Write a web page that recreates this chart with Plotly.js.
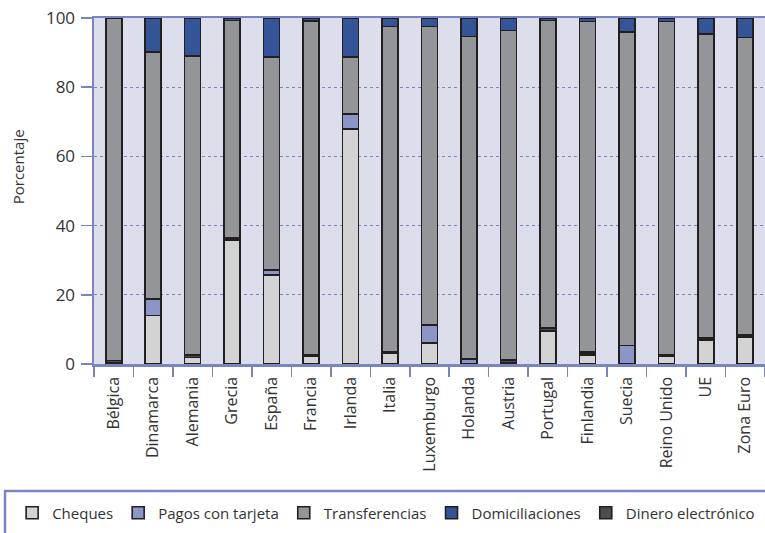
<!DOCTYPE html>
<html><head><meta charset="utf-8">
<script src="https://cdn.plot.ly/plotly-3.0.1.min.js"></script>
<style>html,body{margin:0;padding:0;background:#fff;}#chart{width:765px;height:533px;}</style>
</head><body><div id="chart"></div>
<script>
var categories = ["Bélgica","Dinamarca","Alemania","Grecia","España","Francia","Irlanda","Italia","Luxemburgo","Holanda","Austria","Portugal","Finlandia","Suecia","Reino Unido","UE","Zona Euro"];
var cheques        = [0.3, 14.0, 1.9, 35.8, 25.8, 2.3, 68.0, 3.2, 6.0, 0.0, 0.3, 9.5, 2.6, 0.0, 2.3, 6.8, 7.7];
var pagosTarjeta   = [0.0, 4.8, 0.0, 0.0, 1.4, 0.0, 4.3, 0.0, 5.2, 1.5, 0.0, 0.0, 0.4, 5.3, 0.0, 0.4, 0.4];
var dineroElectr   = [0.7, 0.0, 0.7, 0.7, 0.0, 0.5, 0.0, 0.4, 0.0, 0.0, 0.8, 0.9, 0.4, 0.0, 0.4, 0.4, 0.4];
var transferencias = [99.0, 71.4, 86.5, 62.8, 61.5, 96.4, 16.5, 94.0, 86.4, 93.2, 95.3, 88.9, 95.6, 90.7, 96.3, 87.7, 85.9];
var domiciliaciones= [0.0, 9.8, 10.9, 0.7, 11.3, 0.8, 11.2, 2.4, 2.4, 5.3, 3.6, 0.7, 1.0, 4.0, 1.0, 4.7, 5.6];
var yTicks = [0, 20, 40, 60, 80, 100];
var yTitle = "Porcentaje";

var outline = {color: "#231f20", width: 1.6};
function tr(name, vals, color, rank) {
  return {type: "bar", name: name, x: categories, y: vals, legendrank: rank,
    marker: {color: color, line: outline}, hoverinfo: "y+name"};
}
var data = [
  tr("Cheques", cheques, "#d3d3d4", 1),
  tr("Pagos con tarjeta", pagosTarjeta, "#8c96c6", 2),
  tr("Dinero electrónico", dineroElectr, "#4d4d4f", 5),
  tr("Transferencias", transferencias, "#939598", 3),
  tr("Domiciliaciones", domiciliaciones, "#335496", 4)
];
var axisBlue = "#7a85bf";
var layout = {
  width: 765, height: 533,
  margin: {l: 94, r: 0, t: 18, b: 169},
  paper_bgcolor: "#ffffff",
  plot_bgcolor: "#dcdfeb",
  barmode: "stack",
  bargap: 0.595,
  font: {family: "Open Sans, sans-serif", color: "#333333", size: 14},
  xaxis: {
    type: "category", tickangle: -90, tickson: "boundaries", ticks: "outside", ticklen: 10,
    tickcolor: axisBlue, tickwidth: 1.5, showline: true, linecolor: axisBlue, linewidth: 2.5,
    mirror: true, showgrid: false, tickfont: {size: 16, color: "#333333"}, automargin: false,
    ticklabelstandoff: 4
  },
  yaxis: {
    range: [0, 100], tickvals: yTicks, ticks: "outside", ticklen: 11, tickcolor: axisBlue,
    tickwidth: 1.5, showline: true, linecolor: axisBlue, linewidth: 2.5, showgrid: true,
    gridcolor: "#7a85bf", griddash: "dot", gridwidth: 1, zeroline: false,
    tickfont: {size: 17, color: "#333333"}, automargin: false, ticklabelstandoff: 2
  },
  yaxis2: {
    overlaying: "y", side: "left", anchor: "x", range: [0, 100], tickvals: yTicks,
    ticks: "inside", ticklen: 6, tickcolor: axisBlue, tickwidth: 1.5, showticklabels: false,
    showgrid: false, zeroline: false, showline: false
  },
  annotations: [{
    text: yTitle, xref: "paper", yref: "paper", x: -0.114, y: 0.57, textangle: -90,
    showarrow: false, font: {size: 15, color: "#333333"}, xanchor: "center", yanchor: "middle"
  }],
  showlegend: true,
  legend: {
    orientation: "h", x: -0.122, xanchor: "left", y: -0.383, yanchor: "top",
    font: {family: "Open Sans, sans-serif", size: 15, color: "#333333"},
    bgcolor: "rgba(0,0,0,0)", traceorder: "normal"
  },
  shapes: [{
    type: "rect", xref: "paper", yref: "paper", x0: -0.1326, x1: 1.2, y0: -0.7, y1: -0.367,
    line: {color: axisBlue, width: 2.5}, fillcolor: "rgba(0,0,0,0)"
  }]
};
Plotly.newPlot("chart", data, layout, {displayModeBar: false, staticPlot: true});
</script></body></html>
